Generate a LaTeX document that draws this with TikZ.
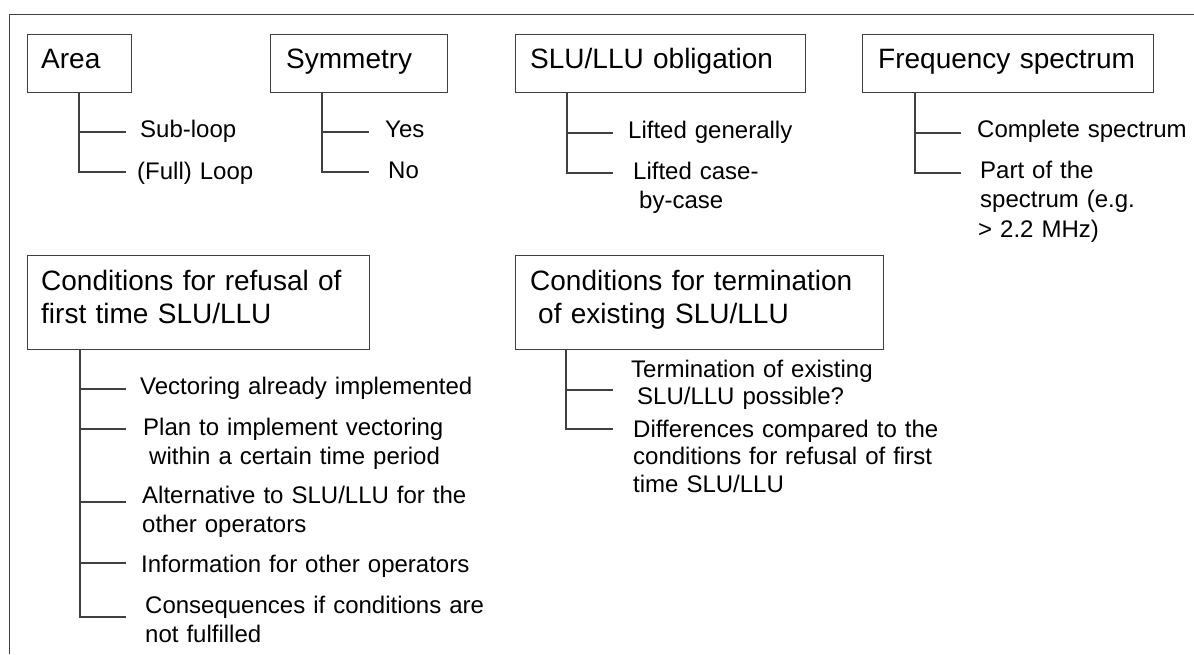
\documentclass[tikz,border=0pt]{standalone}
\usepackage{fontspec}
\setmainfont{Liberation Sans}
\tikzset{
  frame/.style={line width=1.3pt, black!75},
  catbox/.style={draw=black!75, line width=1.3pt, anchor=north west, inner sep=0pt, minimum height=57.5pt},
  cattext/.style={anchor=base west, inner sep=0pt, text width=360pt, align=left, font=\fontsize{28}{33.5}\selectfont},
  item/.style={anchor=base west, inner sep=0pt, text width=370pt, align=left, font=\fontsize{24}{29.5}\selectfont},
  branch/.style={line width=1.2pt, black!75},
}
\begin{document}
\begin{tikzpicture}[x=1pt, y=-1pt]
    \useasboundingbox (0,0) rectangle (1194,654);
    \begin{scope}
      \draw[frame] (1194,14.5) -- (9.5,14.5) -- (9.5,654);
      \node[catbox, minimum width=104pt] (area) at (27,34) {};
      \node[cattext] (areatext) at (41,68.5) {Area};
      \node[catbox, minimum width=177pt] (sym) at (270,34) {};
      \node[cattext] (symtext) at (286,68.5) {Symmetry};
      \node[catbox, minimum width=290pt] (oblig) at (515,34) {};
      \node[cattext] (obligtext) at (530,68.5) {SLU/LLU obligation};
      \node[catbox, minimum width=291pt] (freq) at (862,34) {};
      \node[cattext] (freqtext) at (878,68.5) {Frequency spectrum};
      \node[catbox, minimum width=342pt, minimum height=94.5pt] (refusal) at (27,254.5) {};
      \node[cattext] (refusaltext) at (41,290) {Conditions for refusal of\\first time SLU/LLU};
      \node[catbox, minimum width=368pt, minimum height=94.5pt] (term) at (515,254.5) {};
      \node[cattext] (termtext) at (530,290) {Conditions for termination\\\hspace*{8pt}of existing SLU/LLU};
      \node[item] (subloop) at (140,137) {Sub-loop};
      \node[item] (fullloop) at (137,179) {(Full) Loop};
      \node[item] (yes) at (385,137) {Yes};
      \node[item] (no) at (388,178) {No};
      \node[item] (general) at (628,138) {Lifted generally};
      \node[item] (casewise) at (633,179) {Lifted case-\\\hspace*{6pt}by-case};
      \node[item] (complete) at (977,137) {Complete spectrum};
      \node[item] (partial) at (980,178) {Part of the\\spectrum (e.g.\\\hspace*{-2pt}> 2.2 MHz)};
      \node[item] (vectoring) at (140,394) {Vectoring already implemented};
      \node[item] (plan) at (143,435) {Plan to implement vectoring\\\hspace*{6pt}within a certain time period};
      \node[item] (altern) at (142,503) {Alternative to SLU/LLU for the\\other operators};
      \node[item] (inform) at (141,572) {Information for other operators};
      \node[item] (conseq) at (145,613) {Consequences if conditions are\\not fulfilled};
      \node[item, font=\fontsize{24}{27.5}\selectfont] (possible) at (631,377) {Termination of existing\\\hspace*{6pt}SLU/LLU possible?};
      \node[item, font=\fontsize{24}{27.5}\selectfont] (differ) at (633,437) {Differences compared to the\\conditions for refusal of first\\time SLU/LLU};
      \coordinate (a1) at (126,132);
      \coordinate (a2) at (126,172);
      \coordinate (s1) at (369,132);
      \coordinate (s2) at (369,172);
      \coordinate (o1) at (613,133);
      \coordinate (o2) at (613,173);
      \coordinate (f1) at (961,133);
      \coordinate (f2) at (961,173);
      \coordinate (r1) at (126,389);
      \coordinate (r2) at (126,429);
      \coordinate (r3) at (126,502);
      \coordinate (r4) at (126,563);
      \coordinate (r5) at (126,617);
      \coordinate (t1) at (613,390);
      \coordinate (t2) at (613,429);
      \draw[branch] ([xshift=52pt]area.south west) |- (a1);
      \draw[branch] ([xshift=52pt]area.south west) |- (a2);
      \draw[branch] ([xshift=52pt]sym.south west) |- (s1);
      \draw[branch] ([xshift=52pt]sym.south west) |- (s2);
      \draw[branch] ([xshift=52pt]oblig.south west) |- (o1);
      \draw[branch] ([xshift=52pt]oblig.south west) |- (o2);
      \draw[branch] ([xshift=53pt]freq.south west) |- (f1);
      \draw[branch] ([xshift=53pt]freq.south west) |- (f2);
      \draw[branch] ([xshift=53pt]refusal.south west) |- (r1);
      \draw[branch] ([xshift=53pt]refusal.south west) |- (r2);
      \draw[branch] ([xshift=53pt]refusal.south west) |- (r3);
      \draw[branch] ([xshift=53pt]refusal.south west) |- (r4);
      \draw[branch] ([xshift=53pt]refusal.south west) |- (r5);
      \draw[branch] ([xshift=51pt]term.south west) |- (t1);
      \draw[branch] ([xshift=51pt]term.south west) |- (t2);
    \end{scope}
\end{tikzpicture}
\end{document}
